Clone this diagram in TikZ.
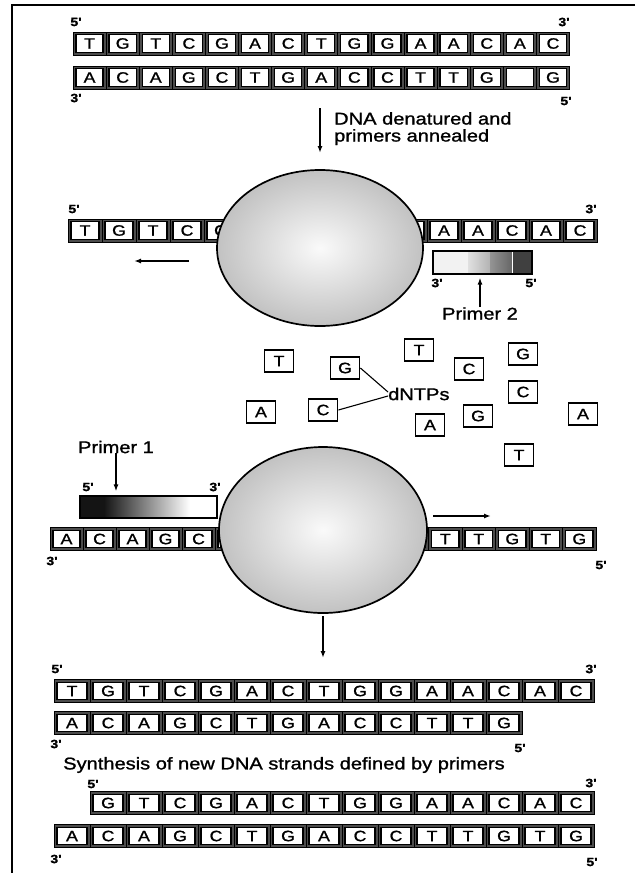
\documentclass[tikz,border=0pt]{standalone}
\usepackage{fontspec}
\setmainfont{Liberation Sans}
\newfontfamily\widesans[FakeStretch=1.18,FakeBold=1.2]{Liberation Sans}
\usetikzlibrary{arrows.meta,positioning,shapes.geometric,calc}

\newcommand{\cellfont}{\widesans\fontsize{15}{15}\selectfont}
\newcommand{\lblfont}{\widesans\fontsize{17}{17}\selectfont}
\newcommand{\primefont}{\widesans\bfseries\fontsize{12}{12}\selectfont}

% one strand: name, left x, centre y, pitch, bases
\newcommand{\dnastrand}[5]{%
  \foreach \b [count=\i] in {#5} {
    \filldraw[fill=black!70,line width=0.8pt]
      ({#2+(\i-1)*#4},#3-11.5) rectangle ({#2+\i*#4},#3+11.5);
    \node[base,minimum width=#4-6] (#1-\i) at ({#2+(\i-0.5)*#4},#3) {\b};
  }
}

\begin{document}
\begin{tikzpicture}[x=1pt,y=-1pt,
  base/.style={draw,fill=white,line width=1.3pt,inner sep=0pt,
               minimum height=17.5,font=\cellfont},
  nt/.style={draw,fill=white,line width=1.8pt,inner sep=0pt,
             minimum width=29,minimum height=22,font=\cellfont},
  prime/.style={font=\primefont,inner sep=0pt},
  blob/.style={ellipse,draw,line width=1.7pt,inner color=black!2,
               outer color=black!24},
  flow/.style={-{Latex[length=7pt,width=5pt]},line width=1.4pt},
  note/.style={font=\lblfont,inner sep=0pt}
]
  \useasboundingbox (0,0) rectangle (635,873);
  \draw[line width=1.6pt] (635,5) -- (12,5) -- (12,873);

  % double strand template
  \dnastrand{a}{73}{43.5}{33.1}{T,G,T,C,G,A,C,T,G,G,A,A,C,A,C}
  \dnastrand{b}{73}{77.5}{33.1}{A,C,A,G,C,T,G,A,C,C,T,T,G,{},G}
  \node[prime] (a5) at (76,22) {5'};
  \node[prime] (a3) at (564,22) {3'};
  \node[prime] (b3) at (76,98) {3'};
  \node[prime] (b5) at (566,101) {5'};

  \coordinate (s1) at (320,108);
  \coordinate (e1) at (320,153);
  \draw[flow] (s1) -- (e1);
  \node[note,anchor=north west,align=left] (denat) at (334,112)
    {DNA denatured and\\primers annealed};

  % upper strand with polymerase and primer 2
  \dnastrand{c}{68}{230.5}{34}{T,G,T,C,G}
  \dnastrand{cr}{393}{230.5}{34}{G,A,A,C,A,C}
  \node[blob,minimum width=206,minimum height=156] (pol1) at (320,248) {};
  \node[prime] (c5) at (74,209) {5'};
  \node[prime] (c3) at (591,209) {3'};
  \coordinate (bk1) at (189,261);
  \coordinate (bk2) at (134,261);
  \draw[flow] (bk1) -- (bk2);

  \fill[black!5] (433,251) rectangle (468,274);
  \shade[left color=black!12,right color=black!30] (468,251) rectangle (490,274);
  \shade[left color=black!42,right color=black!60] (490,251) rectangle (512,274);
  \fill[black!75] (512,251) rectangle (532,274);
  \draw[white,line width=1pt] (512,252) -- (512,273);
  \node[draw,line width=1.2pt,minimum width=99,minimum height=23,inner sep=0pt]
    (pr2) at (482.5,262.5) {};
  \node[prime] (p23) at (437,283) {3'};
  \node[prime] (p25) at (531,283) {5'};
  \node[note] (p2lbl) at (480,313.5) {Primer 2};
  \draw[flow] (p2lbl.north) -- ([yshift=-3pt]p2lbl.north |- pr2.south);

  % free nucleotides
  \node[nt] (dT1) at (279,361) {T};
  \node[nt] (dG1) at (345,368) {G};
  \node[nt] (dA1) at (261,412) {A};
  \node[nt] (dC1) at (323,410) {C};
  \node[nt] (dT2) at (419,350) {T};
  \node[nt] (dC2) at (469,369) {C};
  \node[nt] (dG2) at (523,354) {G};
  \node[nt] (dC3) at (523,392) {C};
  \node[nt] (dA2) at (430,425) {A};
  \node[nt] (dG3) at (478,416) {G};
  \node[nt] (dA3) at (583,414) {A};
  \node[nt] (dT3) at (519,455) {T};
  \node[note,anchor=west] (dntp) at (388,394) {dNTPs};
  \draw[line width=1.1pt] (dG1.east) -- ([yshift=2pt]dntp.west);
  \draw[line width=1.1pt] (dC1.east) -- ([yshift=-2pt]dntp.west);

  % lower strand with primer 1
  \node[note] (p1lbl) at (116,447) {Primer 1};
  \fill[black!92] (80,496) rectangle (104,518);
  \shade[left color=black!92,right color=white] (104,496) rectangle (190,518);
  \node[draw,line width=1.2pt,minimum width=137,minimum height=22,inner sep=0pt]
    (pr1) at (148.5,507) {};
  \node[prime] (p15) at (88,487) {5'};
  \node[prime] (p13) at (215,487) {3'};
  \draw[flow] (p1lbl.south) -- ([yshift=4pt]p1lbl.south |- pr1.north);

  \dnastrand{d}{50}{539}{33}{A,C,A,G,C,T}
  \dnastrand{dr}{395}{539}{33.5}{C,T,T,G,T,G}
  \node[blob,minimum width=208,minimum height=166] (pol2) at (323,530) {};
  \node[prime] (d3) at (52,561) {3'};
  \node[prime] (d5) at (601,565) {5'};
  \coordinate (fw1) at (433,516);
  \coordinate (fw2) at (491,516);
  \draw[flow] (fw1) -- (fw2);

  \coordinate (s2) at (323,616);
  \coordinate (e2) at (323,658);
  \draw[flow] (s2) -- (e2);

  % products
  \dnastrand{e}{54}{691}{36}{T,G,T,C,G,A,C,T,G,G,A,A,C,A,C}
  \dnastrand{f}{54}{723}{36}{A,C,A,G,C,T,G,A,C,C,T,T,G}
  \node[prime] (e5) at (57,669) {5'};
  \node[prime] (e3) at (591,669) {3'};
  \node[prime] (f3) at (56,744) {3'};
  \node[prime] (f5) at (520,748) {5'};
  \node[note] (synth) at (284,765) {Synthesis of new DNA strands defined by primers};

  \dnastrand{g}{90}{803}{36}{G,T,C,G,A,C,T,G,G,A,A,C,A,C}
  \dnastrand{h}{54}{836}{36}{A,C,A,G,C,T,G,A,C,C,T,T,G,T,G}
  \node[prime] (g5) at (93,784) {5'};
  \node[prime] (g3) at (591,783) {3'};
  \node[prime] (h3) at (56,859) {3'};
  \node[prime] (h5) at (592,862) {5'};
\end{tikzpicture}
\end{document}
